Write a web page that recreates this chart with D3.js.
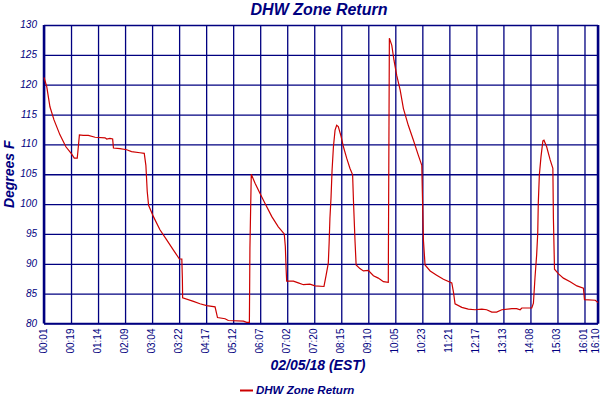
<!DOCTYPE html>
<html>
<head>
<meta charset="utf-8">
<script src="https://cdn.jsdelivr.net/npm/d3@7"></script>
<style>
	body { margin: 0; background: #fff; }
	svg { display: block; font-family: 'Liberation Sans', Arial, sans-serif; }
	.title, .axis-title, .legend text { font-weight: bold; font-style: italic; fill: #000080; }
	.tick text { fill: #000080; }
</style>
</head>
<body>
<div id="chart"></div>
<script>
// sample index along the x axis (10 samples between labelled ticks)
const sampleIdx = [
	0, 1, 2.2, 3.7, 5.9, 8.1, 10.2, 11.2, 12.3, 12.5, 13.1, 14.5, 16.4, 18.9, 22.6, 23.2, 24.4, 25.4,
	25.7, 28.1, 30.6, 32.4, 35.5, 37.1, 37.7, 38.2, 38.7, 40.5, 42.9, 45.4, 47.9, 50.1, 51, 51.2, 51.3,
	55.3, 57.7, 60.2, 63.3, 64.2, 67, 68.2, 73.8, 75, 76, 76.2, 76.7, 78.1, 79.9, 81.8, 84.3, 86.7,
	88.9, 89.3, 89.6, 89.8, 92.3, 94.1, 96, 98.4, 100.3, 103.6, 104.4, 105.2, 105.5, 105.8, 106.2,
	106.6, 107.1, 107.7, 108.3, 108.9, 109.9, 110.8, 112, 113.2, 114.2, 114.5, 115.1, 115.5, 116.9,
	118.2, 120, 121.9, 123.7, 125.6, 127.4, 127.6, 127.8, 128.7, 129.5, 130.5, 131.8, 133, 134.8,
	136.7, 138.5, 139.8, 140, 140.4, 141, 142.9, 145.3, 147.8, 150.9, 151.5, 152.1, 154.6, 157,
	159.5, 162, 163.8, 165.7, 167.5, 169.4, 173.1, 174.9, 176.2, 176.8, 180.5, 181.1, 181.7, 182.3,
	182.7, 182.9, 183.3, 183.9, 184.6, 185, 186, 187.3, 188.3, 188.5, 188.9, 190.4, 192.2, 194.7,
	197.2, 199.6, 200, 204, 205
];

// DHW zone return temperature, degrees F
const tempF = [
	121.2, 119.7, 116.3, 114.1, 111.6, 109.6, 108.4, 107.7, 107.7, 108.6, 111.6, 111.5, 111.5, 111.2,
	111.1, 110.9, 111.0, 110.9, 109.4, 109.3, 109.1, 108.8, 108.6, 108.5, 106.5, 102.1, 99.8, 97.9,
	95.7, 94.0, 92.3, 90.8, 90.8, 87.6, 84.3, 83.7, 83.3, 83.0, 82.8, 81.0, 80.8, 80.5, 80.4, 80.2,
	80.2, 92.6, 105.0, 103.5, 101.8, 100.1, 97.9, 96.2, 95.0, 92.9, 89.0, 87.1, 87.1, 86.8, 86.5,
	86.6, 86.3, 86.2, 88.1, 90.1, 93.4, 97.6, 101.0, 105.7, 109.6, 112.4, 113.2, 113.0, 111.4, 109.6,
	107.7, 106.0, 104.9, 100.7, 93.7, 89.8, 89.2, 88.8, 88.9, 88.0, 87.6, 87.0, 86.9, 107.4, 127.8,
	126.6, 124.1, 121.6, 119.1, 116.0, 113.2, 110.7, 108.2, 106.5, 102.1, 94.0, 89.8, 88.8, 88.1,
	87.4, 86.8, 85.3, 83.3, 82.7, 82.4, 82.3, 82.4, 82.3, 81.9, 81.9, 82.3, 82.5, 82.5, 82.3, 82.6,
	82.6, 83.4, 87.8, 91.5, 95.1, 100.1, 104.9, 107.9, 110.6, 110.7, 109.6, 107.4, 106.0, 97.6, 89.1,
	88.3, 87.6, 87.0, 86.3, 85.9, 84.0, 83.9, 83.5
];

const timeLabels = [
	'00:01', '00:19', '01:14', '02:09', '03:04', '03:22', '04:17', '05:12', '06:07', '07:02', '07:20',
	'08:15', '09:10', '10:05', '10:23', '11:21', '12:17', '13:13', '14:08', '15:03', '16:01', '16:10'
];
const timeTickIdx = [0, 10, 20, 30, 40, 50, 60, 70, 80, 90, 100, 110, 120, 130, 140, 150, 160, 170, 180, 190, 200, 205];
const yTicks = [80, 85, 90, 95, 100, 105, 110, 115, 120, 125, 130];

const NAVY = '#000080';
const RED = '#cc0000';
const W = 600;
const H = 400;
const margin = { top: 25, right: 2, bottom: 76.5, left: 44 };
const width = W - margin.left - margin.right;
const height = H - margin.top - margin.bottom;

const data = sampleIdx.map((d, i) => ({ idx: d, temp: tempF[i] }));

const x = d3.scaleLinear().domain([0, 205]).range([0, width]);
const y = d3.scaleLinear().domain([80, 130]).range([height, 0]);

const $svg = d3.select('#chart').append('svg').attr('width', W).attr('height', H);
const $g = $svg.append('g').attr('transform', `translate(${margin.left},${margin.top})`);

// grid + y labels
const $yAxis = $g.append('g')
	.attr('class', 'y-axis')
	.call(d3.axisLeft(y).tickValues(yTicks).tickSize(-width).tickPadding(7));
$yAxis.select('.domain').remove();
$yAxis.selectAll('line').attr('stroke', NAVY).attr('stroke-width', 1.3);
$yAxis.selectAll('text')
	.style('font-size', '10px')
	.style('font-style', 'italic')
	.attr('dy', '0.25em');

// grid + x labels
const lastTick = timeTickIdx.length - 1;
const $xAxis = $g.append('g')
	.attr('class', 'x-axis')
	.attr('transform', `translate(0,${height})`)
	.call(d3.axisBottom(x)
		.tickValues(timeTickIdx)
		.tickFormat((d, i) => timeLabels[i])
		.tickSize(-height));
$xAxis.select('.domain').remove();
$xAxis.selectAll('line').attr('stroke', NAVY).attr('stroke-width', 1.3);
$xAxis.selectAll('text')
	.style('font-size', '10px')
	.attr('transform', 'rotate(-90)')
	.attr('text-anchor', 'end')
	.attr('x', -5)
	.attr('y', 0)
	// last label sits at the frame edge, nudge it inside
	.attr('dy', (d, i) => (i === lastTick ? '0.02em' : '0.2em'));

// frame: heavier left and right edges
$g.append('line').attr('x1', 0).attr('x2', width).attr('y1', height).attr('y2', height)
	.attr('stroke', NAVY).attr('stroke-width', 1.6);
$g.append('line').attr('x1', 0).attr('x2', 0).attr('y1', 0).attr('y2', height)
	.attr('stroke', NAVY).attr('stroke-width', 2.5);
$g.append('line').attr('x1', width).attr('x2', width).attr('y1', 0).attr('y2', height)
	.attr('stroke', NAVY).attr('stroke-width', 2.5);

// series
const line = d3.line().x(d => x(d.idx)).y(d => y(d.temp));
$g.append('path')
	.datum(data)
	.attr('fill', 'none')
	.attr('stroke', RED)
	.attr('stroke-width', 1.2)
	.attr('d', line);

// titles
$svg.append('text').attr('class', 'title')
	.attr('x', 319).attr('y', 15)
	.attr('text-anchor', 'middle')
	.style('font-size', '16px')
	.text('DHW Zone Return');

$svg.append('text').attr('class', 'axis-title')
	.attr('x', 318).attr('y', 370)
	.attr('text-anchor', 'middle')
	.style('font-size', '14px')
	.text('02/05/18 (EST)');

$svg.append('text').attr('class', 'axis-title')
	.attr('transform', `translate(14,${margin.top + height / 2}) rotate(-90)`)
	.attr('text-anchor', 'middle')
	.style('font-size', '14px')
	.text('Degrees F');

// legend
const $legend = $svg.append('g').attr('class', 'legend').attr('transform', 'translate(240,390)');
$legend.append('line').attr('x1', 0).attr('x2', 13).attr('y1', 0.5).attr('y2', 0.5)
	.attr('stroke', RED).attr('stroke-width', 2);
$legend.append('text').attr('x', 16).attr('y', 4)
	.style('font-size', '11.5px')
	.text('DHW Zone Return');
</script>
</body>
</html>
